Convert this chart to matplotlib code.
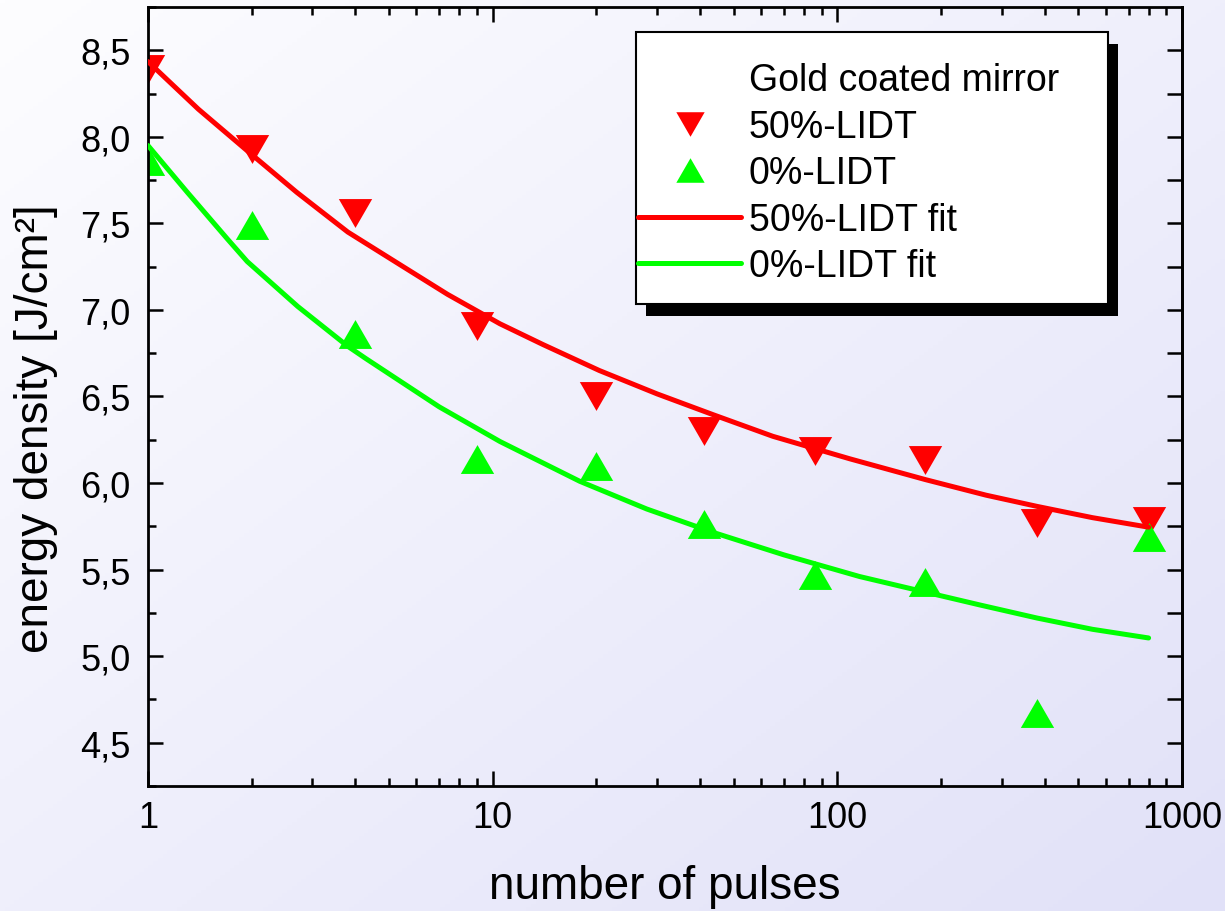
# LIDT vs. number of pulses for a gold coated mirror (log x axis)

import matplotlib.pyplot as plt
import numpy as np
from matplotlib.lines import Line2D
from matplotlib.patches import Rectangle
from matplotlib.ticker import AutoMinorLocator, LogLocator, NullFormatter

# measured points
pulses = [1, 2, 4, 9, 20, 41, 86, 180, 380, 800]
lidt50 = [8.39, 7.93, 7.56, 6.91, 6.50, 6.30, 6.185, 6.135, 5.77, 5.78]
lidt0 = [7.86, 7.49, 6.86, 6.14, 6.10, 5.765, 5.47, 5.43, 4.67, 5.69]

# fit curves
fit50_x = [1, 1.4, 1.94, 2.7, 3.8, 5.5, 7.4, 10.5, 14, 20.4, 30, 43.6, 65,
           108.7, 180, 270, 380, 550, 800]
fit50_y = [8.435, 8.16, 7.92, 7.68, 7.45, 7.25, 7.09, 6.92, 6.80, 6.65, 6.515,
           6.395, 6.27, 6.14, 6.02, 5.93, 5.865, 5.80, 5.745]
fit0_x = [1, 1.3, 1.7, 1.94, 2.72, 3.8, 4.28, 7, 10.5, 17.9, 28, 43.6, 70,
          116, 180, 260, 380, 550, 800]
fit0_y = [7.95, 7.68, 7.41, 7.28, 7.02, 6.79, 6.72, 6.44, 6.24, 6.01, 5.85,
          5.715, 5.585, 5.46, 5.37, 5.295, 5.22, 5.155, 5.105]

xticks = [1, 10, 100, 1000]
xtick_labels = ['1', '10', '100', '1000']
yticks = [4.5, 5.0, 5.5, 6.0, 6.5, 7.0, 7.5, 8.0, 8.5]
ytick_labels = ['4,5', '5,0', '5,5', '6,0', '6,5', '7,0', '7,5', '8,0', '8,5']

plt.rcParams['font.family'] = ['Liberation Sans', 'DejaVu Sans']

fig = plt.figure(figsize=(12.25, 9.12), dpi=100)

# light lavender gradient behind everything
bg = fig.add_axes([0, 0, 1, 1], zorder=-10)
u, v = np.meshgrid(np.linspace(0, 1, 256), np.linspace(0, 1, 256))
t = (u + v) / 2
c0 = np.array([253, 253, 255]) / 255
c1 = np.array([225, 225, 248]) / 255
bg.imshow(c0 + (c1 - c0) * t[..., None], aspect='auto', extent=[0, 1, 0, 1], origin='upper')
bg.axis('off')

ax = fig.add_axes([0.1208, 0.1371, 0.8441, 0.8541])
ax.set_facecolor('none')

tri_up = [(-1, -0.866), (1, -0.866), (0, 0.866)]
tri_down = [(-1, 0.866), (1, 0.866), (0, -0.866)]

red = '#ff0000'
green = '#00ff00'

p50, = ax.plot(pulses, lidt50, linestyle='none', marker=tri_down, markersize=24,
               color=red, markeredgewidth=0, zorder=2, label='50%-LIDT')
p0, = ax.plot(pulses, lidt0, linestyle='none', marker=tri_up, markersize=24,
              color=green, markeredgewidth=0, zorder=2, label='0%-LIDT')
f50, = ax.plot(fit50_x, fit50_y, color=red, lw=3.6, solid_capstyle='round',
               solid_joinstyle='round', zorder=3, label='50%-LIDT fit')
f0, = ax.plot(fit0_x, fit0_y, color=green, lw=3.6, solid_capstyle='round',
              solid_joinstyle='round', zorder=3, label='0%-LIDT fit')

ax.set_xscale('log')
ax.set_xlim(1, 1000)
ax.set_ylim(4.25, 8.75)
ax.set_xticks(xticks)
ax.set_xticklabels(xtick_labels)
ax.xaxis.set_minor_locator(LogLocator(base=10, subs=range(2, 10)))
ax.xaxis.set_minor_formatter(NullFormatter())
ax.set_yticks(yticks)
ax.set_yticklabels(ytick_labels)
ax.yaxis.set_minor_locator(AutoMinorLocator(2))

ax.tick_params(which='major', direction='in', length=11, width=1.8, top=True,
               right=False, labelsize=26, colors='black')
ax.tick_params(which='minor', direction='in', length=5.5, width=1.8, top=True,
               right=False)
ax.tick_params(axis='y', which='major', pad=12.5)
ax.tick_params(axis='x', which='major', pad=10)
for s in ax.spines.values():
    s.set_linewidth(2)

# right side: equal length ticks every 0.25
sec = ax.secondary_yaxis('right')
sec.set_yticks(np.arange(4.5, 8.51, 0.25))
sec.tick_params(direction='in', length=11, width=1.8, labelright=False)
sec.spines['right'].set_linewidth(2)

ax.set_xlabel('number of pulses', fontsize=33)
ax.set_ylabel('energy density [J/cm²]', fontsize=33)
ax.xaxis.set_label_coords(0.5, -0.1)
ax.yaxis.set_label_coords(-0.087, 0.46)

# legend box with black drop shadow
box_x, box_y, box_w, box_h = 0.472, 0.619, 0.4565, 0.349
ax.add_patch(Rectangle((box_x + 0.0097, box_y - 0.0154), box_w, box_h,
                       transform=ax.transAxes, facecolor='black', edgecolor='none',
                       zorder=4.4, clip_on=False))
ax.add_patch(Rectangle((box_x, box_y), box_w, box_h, transform=ax.transAxes,
                       facecolor='white', edgecolor='black', lw=1.5,
                       zorder=4.5, clip_on=False))

title_handle = Line2D([], [], color='none', label='Gold coated mirror')
leg = ax.legend(handles=[title_handle, p50, p0, f50, f0], loc='upper left',
                bbox_to_anchor=(0.474, 0.929), frameon=False, fontsize=27,
                borderpad=0, borderaxespad=0, handlelength=2.75,
                handletextpad=0.2, labelspacing=0.28, numpoints=1,
                markerscale=0.85)
leg.set_zorder(6)

fig.savefig('out.png', dpi=100)
